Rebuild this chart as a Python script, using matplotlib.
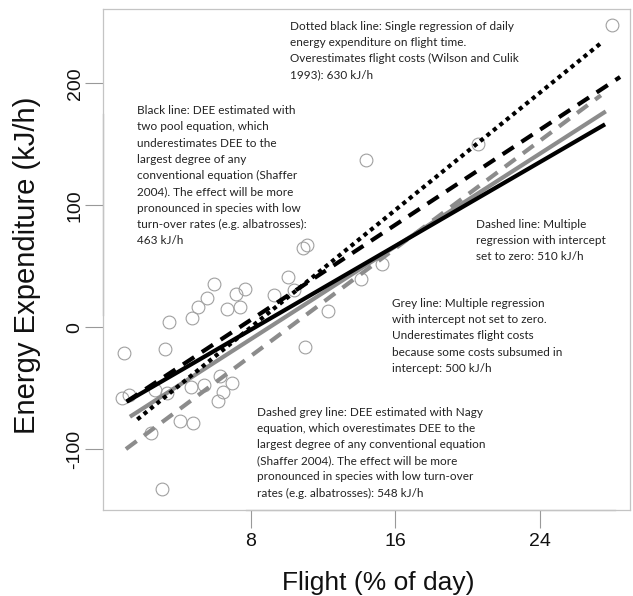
import matplotlib
matplotlib.use('Agg')
import matplotlib.pyplot as plt

# ---------------- data ----------------
flight = [27.99, 20.61, 14.37, 11.11, 10.92, 15.26, 10.06, 14.11, 5.97, 7.69,
          10.42, 7.19, 9.30, 5.57, 5.11, 7.43, 6.71, 12.30, 4.74, 3.50,
          11.01, 3.26, 1.01, 6.31, 6.95, 5.44, 4.70, 6.49, 2.71, 3.37,
          0.86, 1.28, 6.21, 4.09, 4.83, 2.49, 3.11]
energy = [247.5, 150.0, 137.5, 67.8, 65.0, 51.6, 41.2, 39.1, 35.2, 31.4,
          30.3, 27.6, 26.2, 24.0, 16.6, 16.6, 14.8, 13.4, 7.6, 4.1,
          -16.4, -17.8, -21.6, -39.8, -45.7, -47.3, -48.9, -53.0, -51.6, -54.1,
          -57.8, -55.3, -60.4, -76.8, -78.4, -87.1, -133.0]

# regression lines: grey dashed, grey, black, black dashed, dotted black
line_names = ['grey_dashed', 'grey', 'black', 'black_dashed', 'dotted']
line_x0 = [1.10, 1.32, 1.14, 1.14, 1.73]
line_y0 = [-100.0, -73.5, -61.2, -61.0, -75.7]
line_x1 = [27.39, 27.66, 27.62, 28.45, 27.39]
line_y1 = [190.2, 177.0, 166.4, 205.2, 233.0]

x_ticks = [8, 16, 24]
y_ticks = [-100, 0, 100, 200]
x_label = 'Flight (% of day)'
y_label = 'Energy Expenditure (kJ/h)'

notes = [
    ["Dotted black line: Single regression of daily",
     "energy expenditure on flight time.",
     "Overestimates flight costs (Wilson and Culik",
     "1993): 630 kJ/h"],
    ["Black line: DEE estimated with",
     "two pool equation, which",
     "underestimates DEE to the",
     "largest degree of any",
     "conventional equation (Shaffer",
     "2004). The effect will be more",
     "pronounced in species with low",
     "turn-over rates (e.g. albatrosses):",
     "463 kJ/h"],
    ["Dashed line: Multiple",
     "regression with intercept",
     "set to zero: 510 kJ/h"],
    ["Grey line: Multiple regression",
     "with intercept not set to zero.",
     "Underestimates flight costs",
     "because some costs subsumed in",
     "intercept: 500 kJ/h"],
    ["Dashed grey line: DEE estimated with Nagy",
     "equation, which overestimates DEE to the",
     "largest degree of any conventional equation",
     "(Shaffer 2004). The effect will be more",
     "pronounced in species with low turn-over",
     "rates (e.g. albatrosses): 548 kJ/h"],
]

# ---------------- styles ----------------
W, H = 633, 596
GREY = '#8c8c8c'
line_styles = {
    'grey_dashed': dict(color=GREY, lw=3.0, dashes=(3.2, 2.2)),
    'grey': dict(color=GREY, lw=3.0),
    'black': dict(color='black', lw=3.0),
    'black_dashed': dict(color='black', lw=3.0, dashes=(3.2, 2.2)),
    'dotted': dict(color='black', lw=3.0, dashes=(1.0, 1.0)),
}
# note placement (pixels): left x, first baseline y, line spacing
note_pos = [(290.3, 29.8, 16.2), (137.4, 114.1, 16.3), (475.6, 228.0, 16.2),
            (392.3, 306.7, 16.3), (257.4, 415.7, 16.2)]

fig = plt.figure(figsize=(W / 100, H / 100), dpi=100)
ax = fig.add_axes([103 / W, 1 - 510 / H, (630 - 103) / W, (510 - 9) / H])

ax.plot(flight, energy, linestyle='none', marker='o', markersize=9.2,
        markerfacecolor='none', markeredgecolor='#a0a0a0', markeredgewidth=0.8,
        zorder=2)

for name, x0, y0, x1, y1 in zip(line_names, line_x0, line_y0, line_x1, line_y1):
    st = dict(line_styles[name])
    dashes = st.pop('dashes', None)
    ln, = ax.plot([x0, x1], [y0, y1], solid_capstyle='butt',
                  dash_capstyle='butt', zorder=3, **st)
    if dashes is not None:
        ln.set_dashes(dashes)

ax.set_xlim(-0.17, 29.0)
ax.set_ylim(-150, 261)
ax.set_xticks(x_ticks)
ax.set_xticklabels([str(t) for t in x_ticks], fontsize=14,
                   family='Liberation Sans', color='#111111')
ax.set_yticks(y_ticks)
ax.set_yticklabels([str(t) for t in y_ticks], fontsize=14, rotation=90,
                   va='center', family='Liberation Sans', color='#111111')
ax.tick_params(axis='both', direction='out', length=13, width=0.8,
               colors='#999999', labelcolor='#111111')
ax.tick_params(axis='x', pad=3.5)
ax.tick_params(axis='y', pad=1)

for sp in ax.spines.values():
    sp.set_color('#c4c4c4')
    sp.set_linewidth(0.9)

# slightly darker axis-line segments
ax.plot([0, 0], [0.39, 0.79], transform=ax.transAxes, color='#9a9a9a',
        lw=0.9, clip_on=False, zorder=1)
ax.plot([(246 - 103) / 527, (615 - 103) / 527], [0, 0], transform=ax.transAxes,
        color='#9a9a9a', lw=0.9, clip_on=False, zorder=1)

fig.text(27 / W, 1 - 265 / H, y_label, rotation=90, ha='center', va='center',
         fontsize=21, family='Liberation Sans', color='#111111')
fig.text(378 / W, 1 - 589.7 / H, x_label, ha='center', va='baseline',
         fontsize=19, family='Liberation Sans', color='#111111')

for lines, (px, py, sp) in zip(notes, note_pos):
    for i, s in enumerate(lines):
        fig.text(px / W, 1 - (py + i * sp) / H, s, ha='left', va='baseline',
                 fontsize=8.5, family='Lato', color='#222222', zorder=5)

fig.savefig('out.png', dpi=100)
